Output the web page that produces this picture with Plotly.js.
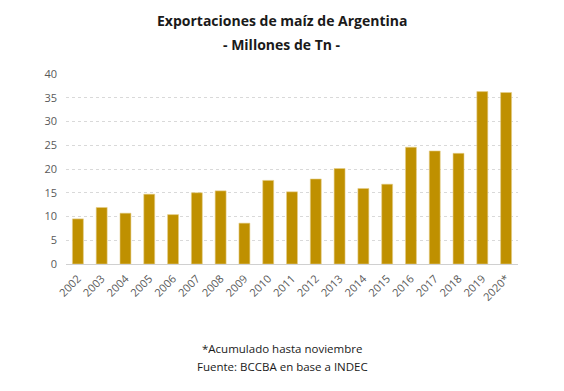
<!DOCTYPE html>
<html>
<head>
<meta charset="utf-8">
<script src="https://cdn.plot.ly/plotly-3.0.1.min.js"></script>
<style>html,body{margin:0;padding:0;background:#fff;}#chart{width:564px;height:391px;}</style>
</head>
<body>
<div id="chart"></div>
<script>
const years = ["2002","2003","2004","2005","2006","2007","2008","2009","2010","2011","2012","2013","2014","2015","2016","2017","2018","2019","2020*"];
const exportsMt = [9.5,11.9,10.7,14.7,10.4,15.0,15.4,8.6,17.6,15.2,17.9,20.1,15.9,16.8,24.6,23.8,23.3,36.3,36.1];
const yTicks = [0,5,10,15,20,25,30,35,40];
const titleLines = ["Exportaciones de maíz de Argentina", "- Millones de Tn -"];
const notes = ["*Acumulado hasta noviembre", "Fuente: BCCBA en base a INDEC"];

const font = "Open Sans, Liberation Sans, sans-serif";
const trace = {
  type: "bar",
  x: years,
  y: exportsMt,
  marker: {color: "#BF9000", line: {color: "#E6CF8A", width: 0.6}},
  hoverinfo: "x+y"
};
const titleY = [1.284, 1.153];
const noteY = [-0.447, -0.542];
const annotations = [];
titleLines.forEach((t, i) => annotations.push({
  text: "<b>" + t + "</b>", xref: "paper", yref: "paper", x: 0.478, y: titleY[i],
  xanchor: "center", yanchor: "middle", showarrow: false,
  font: {family: font, size: 14, color: "#1a1a1a"}
}));
notes.forEach((t, i) => annotations.push({
  text: t, xref: "paper", yref: "paper", x: 0.478, y: noteY[i],
  xanchor: "center", yanchor: "middle", showarrow: false,
  font: {family: font, size: 11.5, color: "#1a1a1a"}
}));
const layout = {
  width: 564, height: 391,
  margin: {l: 66, r: 46, t: 74, b: 127},
  paper_bgcolor: "#fff", plot_bgcolor: "#fff",
  bargap: 0.54,
  showlegend: false,
  xaxis: {
    type: "category",
    tickangle: -45,
    tickfont: {family: font, size: 11, color: "#595959"},
    showgrid: false,
    showline: true, linecolor: "#d0d0d0", linewidth: 1,
    ticks: "", ticklen: 0,
    ticklabelstandoff: 3
  },
  yaxis: {
    range: [0, 40],
    tickvals: yTicks,
    tickfont: {family: font, size: 11, color: "#595959"},
    showgrid: true, gridcolor: "#d9d9d9", griddash: "dot", gridwidth: 1,
    zeroline: false,
    showline: false,
    ticks: "", ticklen: 0,
    ticklabelstandoff: 8
  },
  annotations: annotations
};
Plotly.newPlot("chart", [trace], layout, {displayModeBar: false, staticPlot: true});
</script>
</body>
</html>
